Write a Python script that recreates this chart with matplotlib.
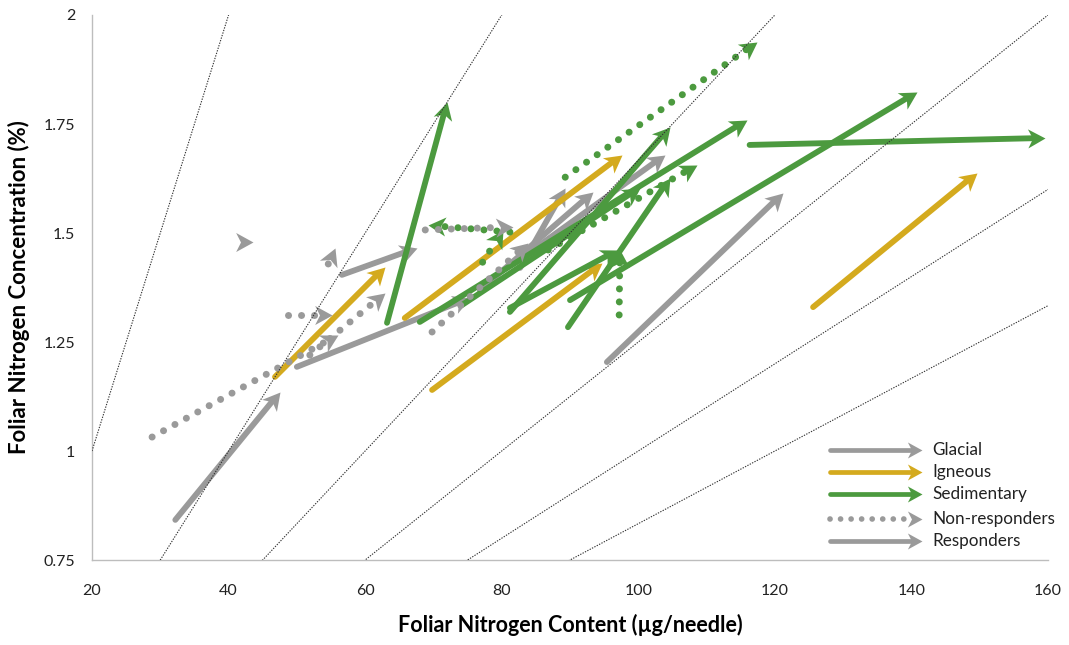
import numpy as np
import matplotlib
matplotlib.use("Agg")
import matplotlib.pyplot as plt
from matplotlib.path import Path
from matplotlib.markers import MarkerStyle
from matplotlib.transforms import Affine2D

plt.rcParams["font.family"] = ["Lato", "DejaVu Sans"]

# each arrow goes from control (x0, y0) to fertilised (x1, y1)
# content in ug/needle, concentration in %
glacial_x0 = [32.2, 50.0, 95.4, 56.6, 76.8, 82.7, 84.1,
              28.8, 51.9, 48.7, 54.6, 42.0, 68.8, 69.8]
glacial_y0 = [0.842, 1.193, 1.204, 1.404, 1.369, 1.420, 1.456,
              1.032, 1.220, 1.312, 1.429, 1.479, 1.507, 1.273]
glacial_x1 = [47.5, 75.3, 121.2, 67.6, 93.4, 89.3, 103.9,
              56.0, 62.9, 55.1, 55.6, 43.6, 81.6, 83.8]
glacial_y1 = [1.135, 1.351, 1.592, 1.466, 1.594, 1.603, 1.679,
              1.266, 1.362, 1.312, 1.466, 1.479, 1.514, 1.477]
glacial_resp = [True] * 7 + [False] * 7

igneous_x0 = [46.8, 65.8, 69.8, 125.6]
igneous_y0 = [1.170, 1.305, 1.140, 1.330]
igneous_x1 = [62.9, 97.6, 94.7, 149.6]
igneous_y1 = [1.422, 1.679, 1.431, 1.638]
igneous_resp = [True, True, True, True]

sedim_x0 = [63.2, 116.3, 90.0, 68.0, 89.7, 81.2, 81.2, 74.2,
            89.3, 86.8, 97.2, 81.2, 77.2]
sedim_y0 = [1.294, 1.702, 1.346, 1.296, 1.284, 1.319, 1.328, 1.335,
            1.628, 1.461, 1.312, 1.502, 1.433]
sedim_x1 = [72.0, 159.5, 140.8, 115.9, 104.6, 104.6, 97.0, 100.2,
            117.4, 108.6, 97.3, 69.2, 80.2]
sedim_y1 = [1.800, 1.718, 1.823, 1.759, 1.626, 1.743, 1.461, 1.604,
            1.938, 1.656, 1.461, 1.518, 1.507]
sedim_resp = [True] * 8 + [False] * 5

# needle mass isolines (content / concentration)
isolines = [20, 40, 60, 80, 100, 120]

x_ticks = [20, 40, 60, 80, 100, 120, 140, 160]
y_ticks = [0.75, 1.0, 1.25, 1.5, 1.75, 2.0]
y_labels = ["0.75", "1", "1.25", "1.5", "1.75", "2"]

GRAY = "#9a9a9a"
GOLD = "#d4aa1e"
GREEN = "#4c9a3f"

# notched arrow head, tip at the origin
HEAD = Path([(0, 0), (-1, 0.55), (-0.72, 0), (-1, -0.55), (0, 0)], closed=True)


def draw_arrow(ax, p0, p1, color, dotted, lw=4.2, ms=25, z=3):
    """p0 and p1 are display (pixel) points."""
    p0 = np.asarray(p0, float)
    p1 = np.asarray(p1, float)
    d = p1 - p0
    length = np.hypot(d[0], d[1])
    ang = np.degrees(np.arctan2(d[1], d[0]))
    inv = ax.transData.inverted()
    back = 0.36 * ms * 100 / 72
    if length > back:
        pe = p1 - d / length * back
        a = inv.transform(p0)
        b = inv.transform(pe)
        if dotted:
            ax.plot([a[0], b[0]], [a[1], b[1]], color=color, lw=lw * 1.2,
                    linestyle=(0, (0.01, 1.85)), dash_capstyle="round",
                    zorder=z, clip_on=False)
        else:
            ax.plot([a[0], b[0]], [a[1], b[1]], color=color, lw=lw,
                    solid_capstyle="round", zorder=z, clip_on=False)
    tip = inv.transform(p1)
    m = MarkerStyle(HEAD, transform=Affine2D().rotate_deg(ang))
    ax.plot([tip[0]], [tip[1]], marker=m, ms=ms, color=color, mew=0,
            linestyle="none", zorder=z, clip_on=False)


def draw_group(ax, x0, y0, x1, y1, resp, color, z, z_dotted):
    for i in range(len(x0)):
        p0 = ax.transData.transform((x0[i], y0[i]))
        p1 = ax.transData.transform((x1[i], y1[i]))
        draw_arrow(ax, p0, p1, color, not resp[i],
                   z=z if resp[i] else z_dotted)


fig = plt.figure(figsize=(10.69, 6.45), dpi=100)
ax = fig.add_axes([92 / 1069, 85 / 645, 956 / 1069, 545 / 645])
ax.set_xlim(20, 160)
ax.set_ylim(0.75, 2)

xs = np.array([20.0, 160.0])
for r in isolines:
    ax.plot(xs, xs / r, color="#333333", lw=0.8, linestyle=(0, (1.2, 1.2)),
            zorder=10)

draw_group(ax, glacial_x0, glacial_y0, glacial_x1, glacial_y1,
           glacial_resp, GRAY, 3, 9)
draw_group(ax, igneous_x0, igneous_y0, igneous_x1, igneous_y1,
           igneous_resp, GOLD, 5, 5)
draw_group(ax, sedim_x0, sedim_y0, sedim_x1, sedim_y1,
           sedim_resp, GREEN, 7, 8)

# legend drawn by hand, Excel style
legend_items = [("Glacial", GRAY, False), ("Igneous", GOLD, False),
                ("Sedimentary", GREEN, False), ("Non-responders", GRAY, True),
                ("Responders", GRAY, False)]
row_y = [0.2018, 0.1615, 0.1211, 0.0752, 0.0349]
for (label, color, dotted), ry in zip(legend_items, row_y):
    p0 = ax.transAxes.transform((0.772, ry))
    p1 = ax.transAxes.transform((0.868, ry))
    draw_arrow(ax, p0, p1, color, dotted, lw=3.4, ms=21, z=12)
    ax.text(0.879, ry, label, transform=ax.transAxes, fontsize=12.3,
            va="center", ha="left", color="#222222")

for side in ["top", "right"]:
    ax.spines[side].set_visible(False)
for side in ["left", "bottom"]:
    ax.spines[side].set_color("#bdbdbd")
    ax.spines[side].set_linewidth(1.0)

ax.set_xticks(x_ticks)
ax.set_yticks(y_ticks)
ax.set_yticklabels(y_labels)
ax.tick_params(axis="both", length=0, labelsize=11.5, colors="#222222")
ax.tick_params(axis="x", pad=17)
ax.tick_params(axis="y", pad=12)

ax.set_xlabel("Foliar Nitrogen Content (\u00b5g/needle)", fontsize=15.5,
              fontweight="bold", labelpad=12)
ax.set_ylabel("Foliar Nitrogen Concentration (%)", fontsize=16,
              fontweight="bold", labelpad=10)

fig.savefig("out.png", dpi=100)
